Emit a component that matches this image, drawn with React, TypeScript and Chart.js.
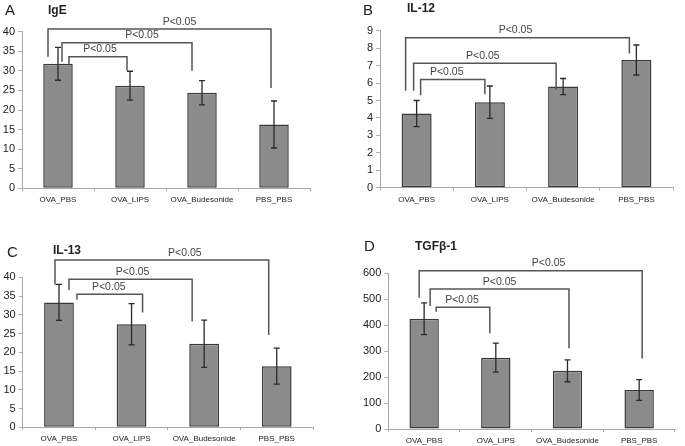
import React, { useEffect, useRef } from "react";
import { Chart, registerables } from "chart.js";

Chart.register(...registerables);

const CATEGORIES = ["OVA_PBS", "OVA_LIPS", "OVA_Budesonide", "PBS_PBS"];

const IGE_MEANS = [31.8, 26.2, 24.4, 16.3];
const IGE_ERRORS = [4.2, 3.7, 3.1, 6.0];
const IL12_MEANS = [4.25, 4.9, 5.8, 7.32];
const IL12_ERRORS = [0.75, 0.93, 0.46, 0.86];
const IL13_MEANS = [33.3, 27.5, 22.3, 16.3];
const IL13_ERRORS = [4.8, 5.5, 6.3, 4.8];
const TGFB1_MEANS = [425, 275, 224, 150];
const TGFB1_ERRORS = [61, 56, 42, 40];

// significance brackets: [fromIndex, toIndex, level, leftLegEnd, rightLegEnd] (data units)
const IGE_BRACKETS = [
  [0, 1, 33.6, 31.7, 30.0],
  [0, 2, 37.2, 32.3, 30.0],
  [0, 3, 40.7, 33.6, 25.6],
];
const IL12_BRACKETS = [
  [0, 1, 6.2, 5.3, 5.35],
  [0, 2, 7.13, 5.56, 5.6],
  [0, 3, 8.6, 5.56, 7.7],
];
const IL13_BRACKETS = [
  [0, 1, 35.5, 34.0, 30.6],
  [0, 2, 39.5, 36.6, 28.2],
  [0, 3, 44.6, 38.0, 24.6],
];
const TGFB1_BRACKETS = [
  [0, 1, 469, 452, 369],
  [0, 2, 539.5, 474, 311],
  [0, 3, 610, 506, 272],
];
const SIG_LABEL = "P<0.05";

// y axis ranges: [max, step]
const IGE_AXIS = [40, 5];
const IL12_AXIS = [9, 1];
const IL13_AXIS = [40, 5];
const TGFB1_AXIS = [600, 100];

const FONT = "'Liberation Sans', Arial, sans-serif";

type Panel = {
  letter: string;
  name: string;
  means: number[];
  errors: number[];
  brackets: number[][];
  axis: number[];
  // layout / style
  box: { left: number; top: number; w: number; h: number };
  area: { l: number; r: number; t: number; b: number };
  letterPos: [number, number];
  namePos: [number, number];
  legOffsets: number[][]; // [leftDx, rightDx, labelDx]
};

const PANELS: Panel[] = [
  {
    letter: "A", name: "IgE", means: IGE_MEANS, errors: IGE_ERRORS, brackets: IGE_BRACKETS, axis: IGE_AXIS,
    box: { left: 0, top: 0, w: 342, h: 220 },
    area: { l: 22, r: 310, t: 31.7, b: 188.3 },
    letterPos: [5, 11], namePos: [48, 11],
    legOffsets: [[11, -3, 2], [4, -10, 15], [-10, -3, 20]],
  },
  {
    letter: "B", name: "IL-12", means: IL12_MEANS, errors: IL12_ERRORS, brackets: IL12_BRACKETS, axis: IL12_AXIS,
    box: { left: 342, top: 0, w: 343, h: 220 },
    area: { l: 38, r: 331, t: 30.7, b: 187.7 },
    letterPos: [21, 11], namePos: [65, 9],
    legOffsets: [[4, -5, -6], [-3, -7, -2], [-11, -7, -2]],
  },
  {
    letter: "C", name: "IL-13", means: IL13_MEANS, errors: IL13_ERRORS, brackets: IL13_BRACKETS, axis: IL13_AXIS,
    box: { left: 0, top: 220, w: 342, h: 226 },
    area: { l: 22.7, r: 313, t: 57.3, b: 207.3 },
    letterPos: [7, 33], namePos: [53, 31],
    legOffsets: [[18, 11, -1], [10, -12, 2], [-4, -8, 23]],
  },
  {
    letter: "D", name: "TGFβ-1", means: TGFB1_MEANS, errors: TGFB1_ERRORS, brackets: TGFB1_BRACKETS, axis: TGFB1_AXIS,
    box: { left: 342, top: 220, w: 343, h: 226 },
    area: { l: 46.3, r: 333, t: 53.3, b: 209 },
    letterPos: [22, 27], namePos: [73, 27],
    legOffsets: [[12, -6, -1], [6, 1.5, 0], [-5, 3, 18]],
  },
];

function PanelChart({ p }: { p: Panel }) {
  const ref = useRef<HTMLCanvasElement | null>(null);
  useEffect(() => {
    if (!ref.current) return;
    const overlay = {
      id: "overlay",
      afterDatasetsDraw(chart: any) {
        const ctx = chart.ctx;
        const y = chart.scales.y;
        const meta = chart.getDatasetMeta(0);
        ctx.save();
        ctx.strokeStyle = "#2a2a2a";
        ctx.lineWidth = 1.3;
        p.means.forEach((m, i) => {
          const x = meta.data[i].x;
          const yt = y.getPixelForValue(m + p.errors[i]);
          const yb = y.getPixelForValue(m - p.errors[i]);
          ctx.beginPath();
          ctx.moveTo(x, yt);
          ctx.lineTo(x, yb);
          ctx.moveTo(x - 3, yt);
          ctx.lineTo(x + 3, yt);
          ctx.moveTo(x - 3, yb);
          ctx.lineTo(x + 3, yb);
          ctx.stroke();
        });
        ctx.restore();
      },
      afterDraw(chart: any) {
        const ctx = chart.ctx;
        const xs = chart.scales.x;
        const y = chart.scales.y;
        ctx.save();
        ctx.strokeStyle = "#555";
        ctx.lineWidth = 1.5;
        ctx.fillStyle = "#444";
        ctx.font = `10.5px ${FONT}`;
        ctx.textAlign = "center";
        ctx.textBaseline = "bottom";
        p.brackets.forEach((b, k) => {
          const off = p.legOffsets[k];
          const x1 = xs.getPixelForValue(b[0]) + off[0];
          const x2 = xs.getPixelForValue(b[1]) + off[1];
          const yl = y.getPixelForValue(b[2]);
          const y1 = y.getPixelForValue(b[3]);
          const y2 = y.getPixelForValue(b[4]);
          ctx.beginPath();
          ctx.moveTo(x1, y1);
          ctx.lineTo(x1, yl);
          ctx.lineTo(x2, yl);
          ctx.lineTo(x2, y2);
          ctx.stroke();
          ctx.fillText(SIG_LABEL, (x1 + x2) / 2 + off[2], yl - 2);
        });
        ctx.textAlign = "left";
        ctx.textBaseline = "middle";
        ctx.fillStyle = "#222";
        ctx.font = `15px ${FONT}`;
        ctx.fillText(p.letter, p.letterPos[0], p.letterPos[1]);
        ctx.font = `bold 12px ${FONT}`;
        ctx.fillText(p.name, p.namePos[0], p.namePos[1]);
        ctx.restore();
      },
    };
    const chart = new Chart(ref.current, {
      type: "bar",
      data: {
        labels: CATEGORIES,
        datasets: [
          {
            data: p.means,
            backgroundColor: "#8b8b8b",
            borderColor: "#3a3a3a",
            borderWidth: 1.5,
            borderSkipped: false,
            barPercentage: 0.41,
            categoryPercentage: 1,
          },
        ],
      },
      options: {
        responsive: false,
        animation: false,
        layout: {
          padding: { top: p.area.t, left: 0, right: p.box.w - p.area.r, bottom: 0 },
        },
        plugins: { legend: { display: false }, tooltip: { enabled: false }, title: { display: false } },
        scales: {
          x: {
            afterFit: (s: any) => { s.height = p.box.h - p.area.b; },
            grid: { drawOnChartArea: false, drawTicks: true, tickLength: 3, color: "#b0b0b0" },
            border: { color: "#a8a8a8" },
            ticks: { font: { size: 8, family: FONT }, color: "#222", padding: 4, maxRotation: 0, autoSkip: false },
          },
          y: {
            min: 0,
            max: p.axis[0],
            afterFit: (s: any) => { s.width = p.area.l; },
            grid: { drawOnChartArea: false, drawTicks: true, tickLength: 4, color: "#b0b0b0" },
            border: { color: "#a8a8a8" },
            ticks: { stepSize: p.axis[1], font: { size: 11, family: FONT }, color: "#222", padding: 3 },
          },
        },
      },
      plugins: [overlay],
    } as any);
    return () => chart.destroy();
  }, [p]);
  return (
    <canvas
      ref={ref}
      width={p.box.w}
      height={p.box.h}
      style={{ position: "absolute", left: p.box.left, top: p.box.top, width: p.box.w, height: p.box.h }}
    />
  );
}

export default function App() {
  return (
    <div style={{ position: "absolute", left: 0, top: 0, width: 685, height: 446, background: "#fff" }}>
      {PANELS.map((p) => (
        <PanelChart key={p.letter} p={p} />
      ))}
    </div>
  );
}
